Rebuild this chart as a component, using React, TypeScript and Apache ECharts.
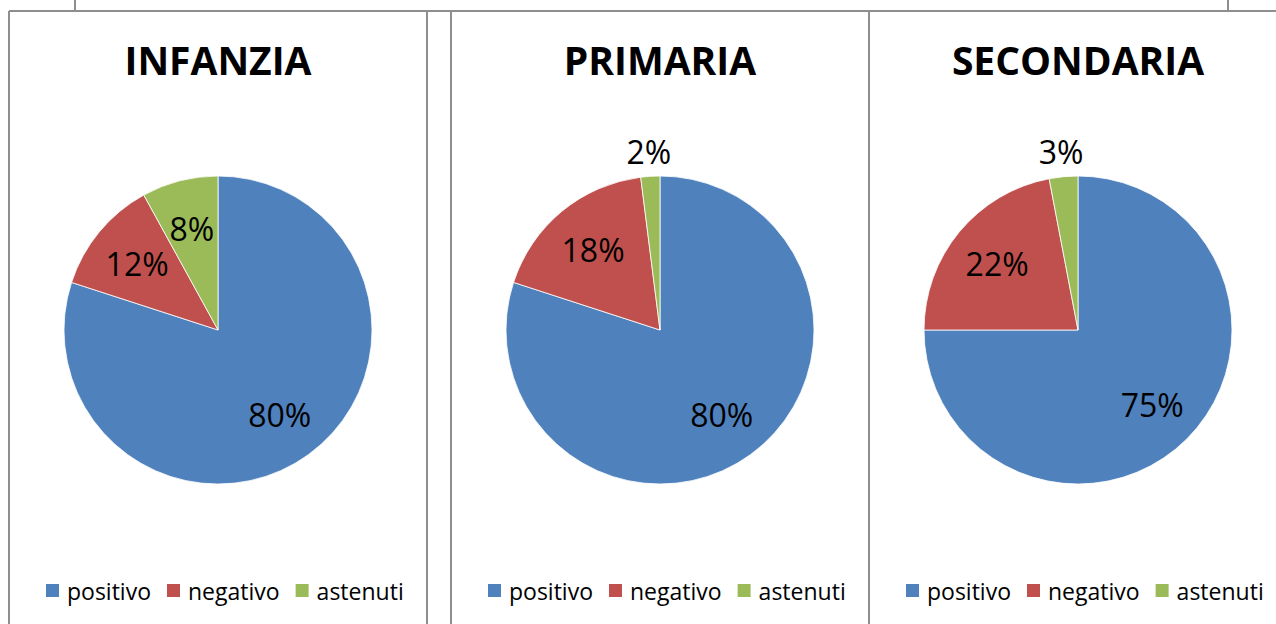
import React, { useEffect, useRef } from 'react';
import * as echarts from 'echarts';

// ---- data ----
const categories = ['positivo', 'negativo', 'astenuti'];
const panelTitles = ['INFANZIA', 'PRIMARIA', 'SECONDARIA'];
const infanzia = [80, 12, 8];
const primaria = [80, 18, 2];
const secondaria = [75, 22, 3];
const panelValues = [infanzia, primaria, secondaria];
const colors = ['#4F81BD', '#C0504D', '#9BBB59'];

// ---- layout ----
const W = 1276;
const H = 624;
const FONT = '"Open Sans", "Noto Sans", sans-serif';
const centersX = [218, 660, 1078];
const CY = 330;
const R = 154;
const legendLeft = [44, 486, 904];
const SMALL = 5; // slices below this percentage get their label outside

const frameLines = [
  [9, 11, 1276, 11],
  [75, 0, 75, 11],
  [1228, 0, 1228, 11],
  [9, 11, 9, 624],
  [427, 11, 427, 624],
  [451, 11, 451, 624],
  [869, 11, 869, 624],
];

export default function App() {
  const ref = useRef<HTMLDivElement>(null);
  useEffect(() => {
    if (!ref.current) return;
    const chart = echarts.init(ref.current, undefined, { renderer: 'svg' });
    const series: any[] = [];
    const labelStyle = {
      show: true,
      position: 'inside',
      formatter: '{c}%',
      fontSize: 32,
      fontFamily: FONT,
      color: '#000',
    };
    panelValues.forEach((vals, p) => {
      series.push({
        type: 'pie',
        center: [centersX[p], CY],
        radius: R,
        startAngle: 90,
        clockwise: true,
        silent: true,
        avoidLabelOverlap: false,
        label: { show: false },
        labelLine: { show: false },
        itemStyle: { borderColor: '#ffffff', borderWidth: 0.8 },
        emphasis: { disabled: true },
        data: vals.map((v, i) => ({ value: v, name: categories[i], itemStyle: { color: colors[i] } })),
      });
      // overlay for inside labels (label sits at ~0.68 R)
      series.push({
        type: 'pie',
        center: [centersX[p], CY],
        radius: 204,
        startAngle: 90,
        clockwise: true,
        silent: true,
        legendHoverLink: false,
        avoidLabelOverlap: false,
        itemStyle: { color: 'rgba(0,0,0,0)' },
        emphasis: { disabled: true },
        labelLine: { show: false },
        label: labelStyle,
        data: vals.map((v, i) => ({ value: v, name: categories[i], label: { show: v >= SMALL } })),
      });
      // overlay for outside labels of small slices
      series.push({
        type: 'pie',
        center: [centersX[p], CY],
        radius: 352,
        startAngle: 90,
        clockwise: true,
        silent: true,
        legendHoverLink: false,
        avoidLabelOverlap: false,
        itemStyle: { color: 'rgba(0,0,0,0)' },
        emphasis: { disabled: true },
        labelLine: { show: false },
        label: labelStyle,
        data: vals.map((v, i) => ({ value: v, name: categories[i], label: { show: v < SMALL } })),
      });
    });

    chart.setOption({
      animation: false,
      backgroundColor: '#ffffff',
      color: colors,
      title: panelTitles.map((t, p) => ({
        text: t,
        left: centersX[p],
        top: 40,
        textAlign: 'center',
        padding: 0,
        textStyle: { fontSize: 39, fontWeight: 'bold', fontFamily: FONT, color: '#000' },
      })),
      legend: panelValues.map((_, p) => ({
        data: categories,
        left: legendLeft[p],
        top: 579,
        padding: 0,
        icon: 'rect',
        itemWidth: 15,
        itemHeight: 15,
        itemGap: 14,
        selectedMode: false,
        textStyle: { fontSize: 23, fontFamily: FONT, color: '#000', padding: [0, 0, 0, 2] },
      })),
      graphic: frameLines.map(([x1, y1, x2, y2]) => ({
        type: 'line',
        shape: { x1, y1, x2, y2 },
        style: { stroke: '#8e8e8e', lineWidth: 2 },
        silent: true,
        z: 100,
      })),
      series,
    });
    return () => chart.dispose();
  }, []);
  return <div ref={ref} style={{ position: 'fixed', left: 0, top: 0, width: W, height: H }} />;
}
